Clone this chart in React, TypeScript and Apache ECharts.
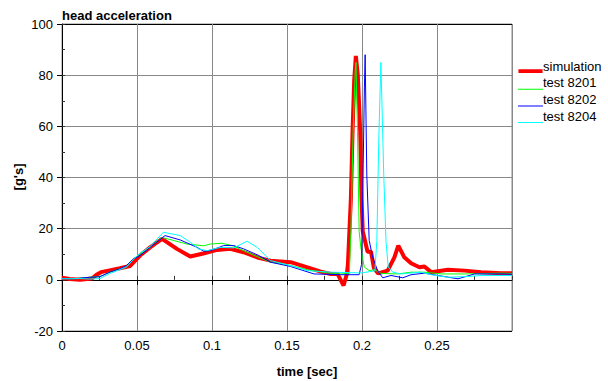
import React, { useEffect, useRef } from "react";
import * as echarts from "echarts";

const FONT = "Liberation Sans, Arial, sans-serif";

const seriesNames = ["simulation", "test 8201", "test 8202", "test 8204"];
const seriesColors = ["#ff0000", "#00ff00", "#0000ff", "#00ffff"];

const simT = [0, 0.005, 0.012, 0.02, 0.023, 0.026, 0.031, 0.0386, 0.0453, 0.052, 0.0587, 0.0667, 0.0766, 0.0855, 0.0942, 0.1033, 0.1122, 0.121, 0.131, 0.139, 0.1524, 0.1636, 0.1725, 0.1792, 0.1837, 0.1877, 0.1899, 0.1906, 0.1926, 0.1937, 0.1948, 0.1959, 0.1972, 0.1988, 0.1997, 0.2005, 0.2037, 0.206, 0.208, 0.2108, 0.2171, 0.2216, 0.2242, 0.2282, 0.2327, 0.2383, 0.2416, 0.2461, 0.2573, 0.2684, 0.2796, 0.2929, 0.3];
const simV = [0.8, 0.3, 0, 0.5, 2, 3, 3.6, 4.5, 5.4, 9.5, 12.7, 16, 12.1, 9.1, 10.3, 11.7, 12.1, 10.8, 8.6, 7.5, 6.9, 4.9, 3.2, 2.3, 2.3, -2.2, 2.3, 6, 32, 58, 78, 87.5, 80, 58, 32, 19, 11, 11, 4.5, 2.5, 3.6, 8.8, 13.4, 8.8, 6.5, 4.9, 5.2, 3, 3.9, 3.6, 3, 2.6, 2.6];

const t8201T = [0, 0.0074, 0.0185, 0.0252, 0.0319, 0.0386, 0.0431, 0.0475, 0.052, 0.0587, 0.0665, 0.0833, 0.0944, 0.0989, 0.1067, 0.1134, 0.1211, 0.1312, 0.139, 0.1524, 0.1636, 0.177, 0.1859, 0.1916, 0.1926, 0.1941, 0.1955, 0.196, 0.197, 0.1981, 0.1992, 0.2015, 0.2048, 0.2082, 0.2127, 0.2238, 0.2327, 0.2416, 0.2528, 0.2684, 0.2929, 0.3];
const t8201V = [0.5, 0.4, 1, 1.3, 3, 4.3, 5.4, 8.2, 10, 12.7, 16.6, 14, 13.3, 14, 14.3, 13.4, 11.4, 8.8, 6.9, 5.6, 3.9, 2.7, 2.3, 2.5, 19, 58, 82, 85, 58, 19, 12.7, 5, 3.6, 4, 2.5, 2.3, 3, 3, 2.3, 2.3, 2.6, 2.5];

const t8202T = [0, 0.0074, 0.0185, 0.0252, 0.0319, 0.0386, 0.0431, 0.0475, 0.052, 0.0587, 0.0687, 0.0788, 0.09, 0.0944, 0.0989, 0.1078, 0.1145, 0.1211, 0.1312, 0.139, 0.1524, 0.168, 0.1859, 0.1981, 0.1997, 0.2008, 0.2016, 0.2021, 0.2032, 0.2048, 0.2071, 0.2104, 0.2138, 0.2193, 0.2272, 0.2327, 0.2416, 0.2506, 0.264, 0.2751, 0.2929, 0.3];
const t8202V = [0.5, 0.4, 1, 1.2, 3, 4.3, 5.6, 8.2, 9.5, 12.7, 17.3, 15.6, 12.7, 11.2, 11.4, 13.4, 13.4, 12.1, 9.5, 6.9, 5.2, 2.3, 2, 2, 6, 45, 75, 88, 41, 15.4, 8.8, 3.6, 0.8, 1.7, 0.8, 2, 2.6, 1.7, 0.4, 2.3, 2.3, 2.2];

const t8204T = [0, 0.0118, 0.0185, 0.0252, 0.0319, 0.0386, 0.0431, 0.0475, 0.052, 0.0587, 0.0676, 0.0788, 0.0855, 0.091, 0.0967, 0.1056, 0.1145, 0.1234, 0.1301, 0.139, 0.1524, 0.1636, 0.1792, 0.1993, 0.2086, 0.2099, 0.2112, 0.2126, 0.2145, 0.216, 0.2175, 0.2205, 0.226, 0.2394, 0.2461, 0.2573, 0.2707, 0.2796, 0.3];
const t8204V = [0.4, 0.5, 0.3, 0.5, 2.5, 4, 5, 8, 10.4, 13, 18.6, 17.3, 14.7, 12.1, 11.4, 12.7, 12.5, 15.1, 12.7, 7.5, 5.6, 3.6, 3, 2.7, 3.5, 15.4, 55, 85, 41, 15, 5, 3, 2.3, 3, 2, 1, 1.3, 1.7, 1.7];

const xMin = 0;
const xMax = 0.3;
const xInterval = 0.05;
const yMin = -20;
const yMax = 100;
const yInterval = 20;

const pairs = (t: number[], v: number[]) => t.map((x, i) => [x, v[i]]);

const thickIcon = "path://M0,0H25V0.01H0Z M0,10.5H25V14.5H0Z";
const thinIcon = "path://M0,0H25V0.01H0Z M0,13H25V14H0Z";

export default function App() {
  const ref = useRef<HTMLDivElement>(null);
  useEffect(() => {
    if (!ref.current) return;
    const chart = echarts.init(ref.current, null, { renderer: "svg" });
    const data = [pairs(simT, simV), pairs(t8201T, t8201V), pairs(t8202T, t8202V), pairs(t8204T, t8204V)];
    const widths = [4, 1, 1, 1];
    const ySplitColors = ["#000", "#888", "#888", "#888", "#888", "#888", "#000"];
    const textBold = { fontFamily: FONT, fontSize: 13, fontWeight: "bold", fill: "#000" };
    chart.setOption({
      animation: false,
      backgroundColor: "#fff",
      grid: { left: 62, right: 96, top: 24, bottom: 50, show: true, borderColor: "#888", borderWidth: 1, containLabel: false, outerBoundsMode: "none" },
      legend: {
        orient: "vertical",
        left: 518,
        top: 59,
        itemWidth: 25,
        itemHeight: 14,
        itemGap: 2.7,
        padding: 0,
        data: seriesNames.map((name, i) => ({ name, icon: i === 0 ? thickIcon : thinIcon })),
        textStyle: { fontFamily: FONT, fontSize: 13, color: "#000", padding: [0, 0, 0, -5] },
      },
      xAxis: [
        {
          type: "value", position: "bottom", min: xMin, max: xMax, interval: xInterval,
          axisLine: { lineStyle: { color: "#000", width: 1 } },
          axisTick: { show: true, length: 5, lineStyle: { color: "#000" } },
          axisLabel: { showMaxLabel: false, fontFamily: FONT, fontSize: 13, color: "#000", margin: 8 },
          splitLine: { show: true, lineStyle: { color: "#888", width: 1 } },
        },
        {
          type: "value", position: "bottom", offset: 0, min: xMin, max: xMax, interval: xInterval / 2,
          axisLine: { show: false },
          axisTick: { show: true, inside: true, length: 4, lineStyle: { color: "#333" } },
          axisLabel: { show: false },
          splitLine: { show: false },
        },
      ],
      yAxis: [
        {
          type: "value", position: "left", min: yMin, max: yMax, interval: yInterval,
          axisLine: { show: true, lineStyle: { color: "#000", width: 1 } },
          axisTick: { show: true, length: 5, lineStyle: { color: "#000" } },
          axisLabel: { fontFamily: FONT, fontSize: 13, color: "#000", margin: 9 },
          splitLine: { show: true, lineStyle: { color: ySplitColors, width: 1 } },
        },
        {
          type: "value", position: "left", offset: 0, min: yMin, max: yMax, interval: yInterval / 2,
          axisLine: { show: false },
          axisTick: { show: true, inside: true, length: 3, lineStyle: { color: "#333" } },
          axisLabel: { show: false },
          splitLine: { show: false },
        },
      ],
      graphic: [
        { type: "text", x: 62, y: 15, style: { ...textBold, text: "head acceleration", align: "left", verticalAlign: "middle" } },
        { type: "text", x: 307, y: 371, style: { ...textBold, text: "time [sec]", align: "center", verticalAlign: "middle" } },
        { type: "text", x: 18, y: 177, rotation: Math.PI / 2, style: { ...textBold, text: "[g's]", align: "center", verticalAlign: "middle" } },
      ],
      series: seriesNames.map((name, i) => ({
        name,
        type: "line",
        xAxisIndex: 0,
        yAxisIndex: 0,
        data: data[i],
        showSymbol: false,
        symbol: "none",
        z: i === 0 ? 2 : 3,
        lineStyle: { color: seriesColors[i], width: widths[i] },
        itemStyle: { color: seriesColors[i] },
        clip: true,
      })),
    });
    return () => chart.dispose();
  }, []);
  return <div ref={ref} style={{ position: "fixed", left: 0, top: 0, width: 608, height: 381 }} />;
}
